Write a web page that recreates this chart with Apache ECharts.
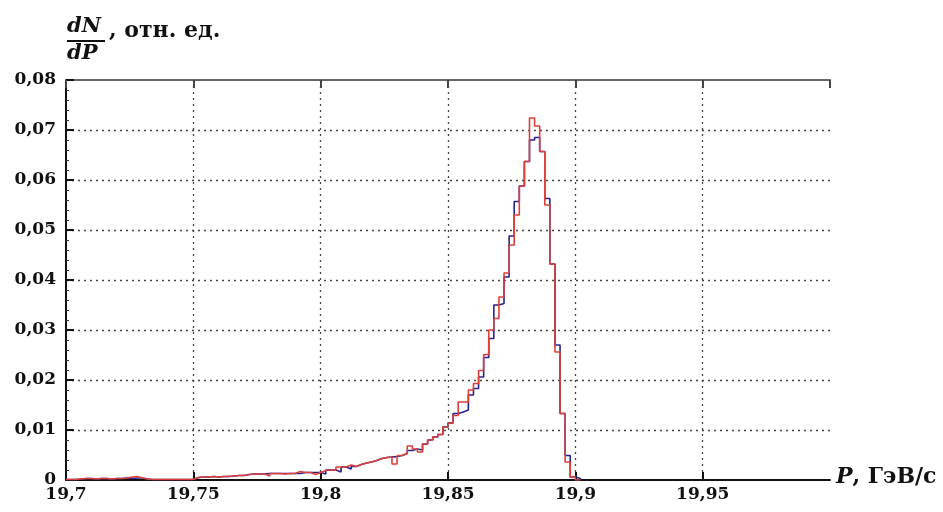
<!DOCTYPE html>
<html>
<head>
<meta charset="utf-8">
<script src="https://cdn.jsdelivr.net/npm/echarts@6/dist/echarts.min.js"></script>
<style>
html,body{margin:0;padding:0;background:#fff;}
#c{width:943px;height:512px;}
</style>
</head>
<body>
<div id="c"></div>
<script>
// Histogram bins: left edge of bin i = binStart + i*binWidth
const binStart = 19.7;
const binWidth = 0.002;

const redValues = [
  0.0001,0.0001,0.0002,0.0003,0.0003,0.0002,0.0003,0.0003,0.0002,0.0003,
  0.0003,0.0004,0.0006,0.0007,0.0004,0.0002,0.0001,0.0001,0.0001,0.0001,
  0.0001,0.0001,0.0001,0.0001,0.0001,0.0005,0.0006,0.0006,0.0007,0.0006,
  0.0007,0.0007,0.0008,0.0009,0.0009,0.0011,0.0012,0.0012,0.0012,0.0008,
  0.0013,0.0013,0.0012,0.0013,0.0013,0.0017,0.0015,0.0015,0.0011,0.0015,
  0.0019,0.0020,0.0020,0.0026,0.0026,0.0030,0.0027,0.0031,0.0034,0.0036,
  0.0039,0.0043,0.0045,0.0046,0.0032,0.0049,0.0053,0.0068,0.0062,0.0056,
  0.0072,0.0080,0.0086,0.0091,0.0106,0.0114,0.0129,0.0156,0.0156,0.0180,
  0.0193,0.0219,0.0251,0.0300,0.0323,0.0366,0.0414,0.0470,0.0530,0.0588,
  0.0637,0.0724,0.0708,0.0657,0.0550,0.0432,0.0256,0.0133,0.0036,0.0006,
  0.0000
];

const blueValues = [
  0.0001,0.0001,0.0002,0.0003,0.0003,0.0002,0.0003,0.0003,0.0002,0.0003,
  0.0003,0.0004,0.0003,0.0004,0.0004,0.0002,0.0001,0.0001,0.0001,0.0001,
  0.0001,0.0001,0.0001,0.0001,0.0001,0.0005,0.0006,0.0006,0.0007,0.0006,
  0.0007,0.0007,0.0008,0.0009,0.0009,0.0011,0.0012,0.0012,0.0012,0.0013,
  0.0013,0.0013,0.0013,0.0013,0.0013,0.0013,0.0015,0.0015,0.0015,0.0015,
  0.0012,0.0020,0.0020,0.0016,0.0026,0.0022,0.0027,0.0031,0.0034,0.0036,
  0.0039,0.0043,0.0045,0.0046,0.0047,0.0049,0.0053,0.0059,0.0062,0.0060,
  0.0072,0.0080,0.0086,0.0091,0.0106,0.0114,0.0133,0.0136,0.0140,0.0170,
  0.0183,0.0206,0.0245,0.0283,0.0350,0.0353,0.0406,0.0488,0.0557,0.0588,
  0.0637,0.0680,0.0685,0.0657,0.0563,0.0432,0.0270,0.0133,0.0049,0.0006,
  0.0003
];

const xTickValues = [19.7, 19.75, 19.8, 19.85, 19.9, 19.95];
const yTickValues = [0, 0.01, 0.02, 0.03, 0.04, 0.05, 0.06, 0.07, 0.08];

function stepPoints(vals) {
  const pts = vals.map((v, i) => [binStart + i * binWidth, v]);
  pts.push([binStart + vals.length * binWidth, vals[vals.length - 1]]);
  pts.push([binStart + vals.length * binWidth, 0]);
  return pts;
}

const FONT = 'DejaVu Serif';
const chart = echarts.init(document.getElementById('c'), null, {renderer: 'canvas'});

const dotted = {color: '#444', width: 1.3, type: [2, 4]};

chart.setOption({
  animation: false,
  backgroundColor: '#fff',
  grid: {left: 66, right: 113, top: 80, bottom: 32, containLabel: false},
  xAxis: [{
    type: 'value', min: 19.7, max: 20.0, interval: 0.05,
    axisLine: {show: true, onZero: false, lineStyle: {color: '#111', width: 2}},
    axisTick: {show: true, inside: true, length: 8, lineStyle: {color: '#111', width: 2}},
    axisLabel: {
      show: true, margin: 6, color: '#111', fontFamily: FONT, fontWeight: 'bold', fontSize: 17,
      showMaxLabel: false,
      formatter: v => (xTickValues.some(t => Math.abs(t - v) < 1e-6) ? String(+v.toFixed(2)).replace('.', ',') : '')
    },
    splitLine: {show: true, showMinLine: false, showMaxLine: false, lineStyle: dotted},
    name: '{i|P}{n|, ГэВ/с}',
    nameLocation: 'end', nameGap: 6,
    nameTextStyle: {
      verticalAlign: 'middle', padding: [0, 0, 6, 0],
      rich: {
        i: {fontFamily: FONT, fontStyle: 'italic', fontWeight: 'bold', fontSize: 22, color: '#111'},
        n: {fontFamily: FONT, fontWeight: 'bold', fontSize: 22, color: '#111'}
      }
    }
  }, {
    type: 'value', min: 19.7, max: 20.0, interval: 0.05, position: 'top',
    axisLine: {show: true, onZero: false, lineStyle: {color: '#666', width: 2}},
    axisTick: {show: true, inside: true, length: 8, lineStyle: {color: '#444', width: 2}},
    axisLabel: {show: false},
    splitLine: {show: false}
  }],
  yAxis: {
    type: 'value', min: 0, max: 0.08, interval: 0.01,
    axisLine: {show: true, onZero: false, lineStyle: {color: '#111', width: 2}},
    axisTick: {show: true, inside: true, length: 8, lineStyle: {color: '#111', width: 2}},
    minorTick: {show: true, splitNumber: 5, length: 3, lineStyle: {color: '#333', width: 1}},
    axisLabel: {
      margin: 10, color: '#111', fontFamily: FONT, fontWeight: 'bold', fontSize: 17,
      formatter: v => (Math.abs(v) < 1e-9 ? '0' : v.toFixed(2).replace('.', ','))
    },
    splitLine: {show: true, showMinLine: false, showMaxLine: false, lineStyle: dotted}
  },
  series: [{
    type: 'line', step: 'end', showSymbol: false, symbol: 'none',
    data: stepPoints(blueValues),
    lineStyle: {color: '#26238e', width: 1.6},
    z: 3
  }, {
    type: 'line', step: 'end', showSymbol: false, symbol: 'none',
    data: stepPoints(redValues),
    lineStyle: {color: '#dc4038', width: 1.6},
    z: 4
  }],
  graphic: [
    {type: 'text', left: 67, top: 16, style: {text: 'dN', font: 'italic bold 21px "DejaVu Serif"', fill: '#111'}},
    {type: 'line', shape: {x1: 67, y1: 41, x2: 105, y2: 41}, style: {stroke: '#111', lineWidth: 2}},
    {type: 'text', left: 67, top: 43, style: {text: 'dP', font: 'italic bold 21px "DejaVu Serif"', fill: '#111'}},
    {type: 'text', left: 109, top: 20, style: {text: ', отн. ед.', font: 'bold 22px "DejaVu Serif"', fill: '#111'}}
  ]
});
</script>
</body>
</html>
